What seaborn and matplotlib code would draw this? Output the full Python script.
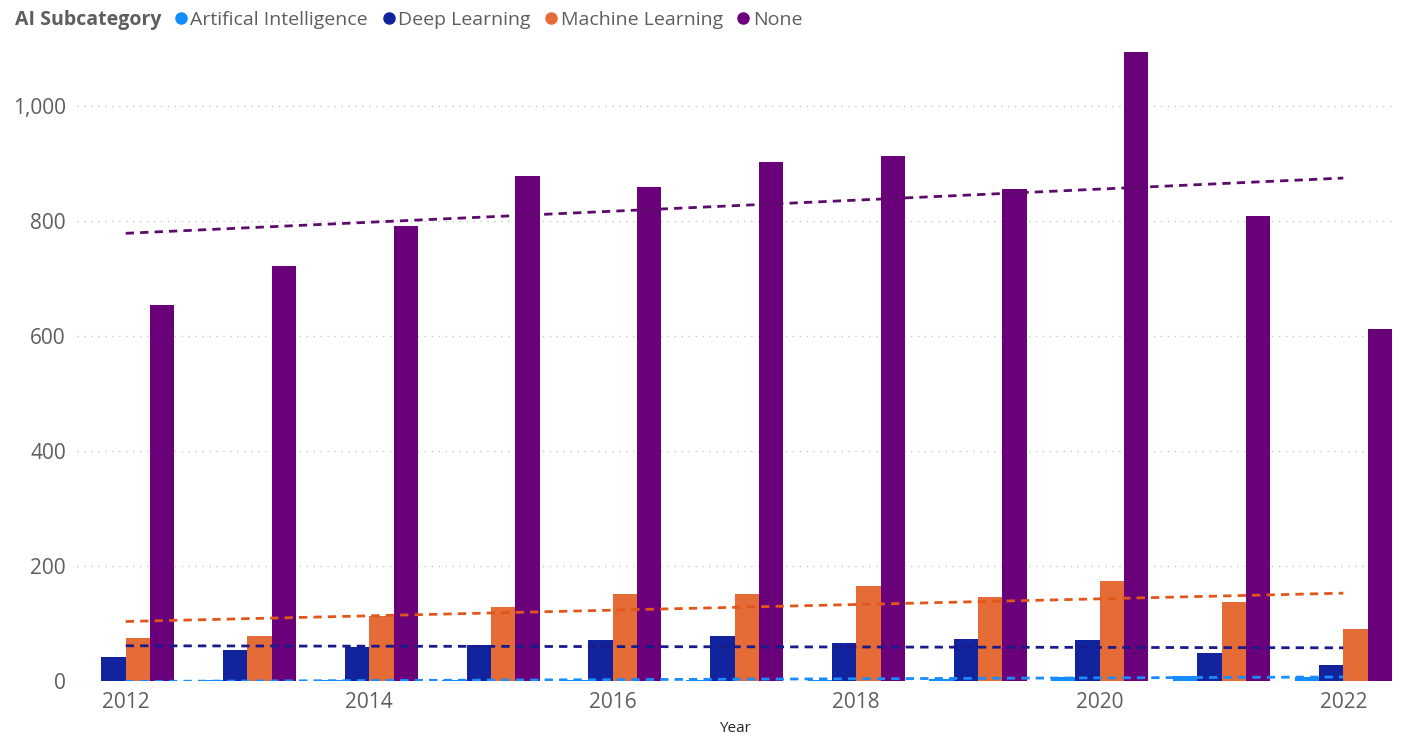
import numpy as np
import pandas as pd
import matplotlib.pyplot as plt
import matplotlib.ticker as mticker
from matplotlib.lines import Line2D
import seaborn as sns

sns.set_theme(style='white')
plt.rcParams['font.family'] = ['Open Sans', 'DejaVu Sans']

years = [2012, 2013, 2014, 2015, 2016, 2017, 2018, 2019, 2020, 2021, 2022]
subcats = ['Artifical Intelligence', 'Deep Learning', 'Machine Learning', 'None']
ai_vals   = [0, 1, 1, 1, 2, 2, 2, 3, 7, 8, 7]
dl_vals   = [42, 54, 59, 63, 71, 78, 66, 73, 71, 49, 28]
ml_vals   = [75, 78, 113, 129, 151, 151, 165, 146, 174, 137, 90]
none_vals = [654, 722, 791, 878, 859, 903, 913, 856, 1094, 809, 612]

bar_colors   = ['#118DFF', '#12239E', '#E66C37', '#6B007B']
trend_colors = ['#1A8CFF', '#1A1A8C', '#E0561B', '#5C0A6B']

df = pd.DataFrame({
    'Year'          : years * 4,
    'AI Subcategory': [s for s in subcats for _ in years],
    'Count'         : ai_vals + dl_vals + ml_vals + none_vals,
})

fig = plt.figure(figsize=(14.01, 7.37), dpi=100)
ax = fig.add_axes([77 / 1401, 0.076, 1315 / 1401, 0.874])

sns.barplot(data=df, x='Year', y='Count', hue='AI Subcategory',
            hue_order=subcats, palette=bar_colors, native_scale=True,
            width=0.8, saturation=1, errorbar=None, legend=False,
            linewidth=0, ax=ax)

for sc, col in zip(subcats, trend_colors):
    sub = df[df['AI Subcategory'] == sc]
    sns.regplot(data=sub, x='Year', y='Count', scatter=False, ci=None,
                truncate=True, ax=ax,
                line_kws={'color': col, 'lw': 2, 'ls': (0, (3, 2.2))})

ax.set_xlim(2011.6, 2022.4)
ax.set_ylim(0, 1120)
ax.set_yticks(range(0, 1001, 200))
ax.set_xticks(range(2012, 2023, 2))
ax.yaxis.set_major_formatter(mticker.StrMethodFormatter('{x:,.0f}'))
ax.yaxis.grid(True, color='#C8C8C8', ls=(0, (1, 4)), lw=1)
ax.set_axisbelow(True)
for s in ax.spines.values():
    s.set_visible(False)
ax.tick_params(axis='both', labelsize=15, colors='#605E5C', length=0, pad=8)
ax.set_ylabel('')
ax.set_xlabel('Year', fontsize=11, color='#252423', labelpad=6)

fig.text(15 / 1401, 1 - 20 / 737, 'AI Subcategory', fontsize=14, fontweight='bold',
         color='#605E5C', va='center', ha='left')
handles = [Line2D([], [], ls='', marker='o', ms=8, color=c) for c in bar_colors]
fig.legend(handles, subcats, loc='center left',
           bbox_to_anchor=(172 / 1401, 1 - 20 / 737), ncol=4, frameon=False,
           fontsize=14, labelcolor='#605E5C', handletextpad=0.05,
           columnspacing=0.6, handlelength=0.9, borderaxespad=0, borderpad=0)

fig.savefig('out.png', dpi=100)
